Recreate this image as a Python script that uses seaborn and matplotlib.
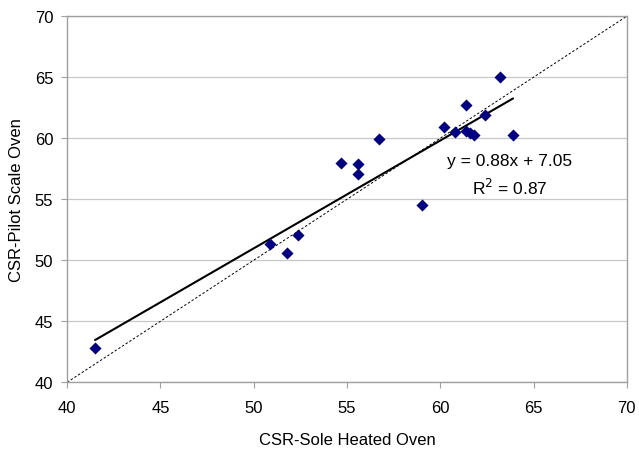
import numpy as np
import pandas as pd
import matplotlib
matplotlib.use("Agg")
import matplotlib.pyplot as plt
import seaborn as sns

# CSR values
sole_heated = [41.5, 50.9, 51.8, 52.4, 54.7, 55.6, 55.6, 56.7, 59.0, 60.2,
               60.8, 61.4, 61.4, 61.6, 61.8, 62.4, 63.2, 63.9]
pilot_scale = [42.8, 51.3, 50.6, 52.1, 58.0, 57.9, 57.1, 59.9, 54.5, 60.9,
               60.5, 62.7, 60.6, 60.4, 60.25, 61.9, 65.0, 60.3]
ticks = [40, 45, 50, 55, 60, 65, 70]
equation_text = "y = 0.88x + 7.05"
r2_text = "R$^2$ = 0.87"

df = pd.DataFrame({"sole": sole_heated, "pilot": pilot_scale})

sns.set_style("white")
plt.rcParams["font.family"] = ["Liberation Sans", "DejaVu Sans"]
plt.rcParams["text.color"] = "black"
plt.rcParams["axes.labelcolor"] = "black"
plt.rcParams["xtick.color"] = "black"
plt.rcParams["ytick.color"] = "black"

fig, ax = plt.subplots(figsize=(6.39, 4.52), dpi=100)
fig.subplots_adjust(left=0.105, right=0.981, top=0.962, bottom=0.152)

# 1:1 reference line
ax.plot(ticks, ticks, color="black", linestyle=(0, (2.5, 2)), linewidth=0.7, zorder=1)

sns.scatterplot(data=df, x="sole", y="pilot", marker="D", s=38, color="#000080",
                edgecolor="#000080", linewidth=0, ax=ax, zorder=3)

# linear trend line
sns.regplot(data=df, x="sole", y="pilot", scatter=False, ci=None, truncate=True,
            line_kws={"color": "black", "linewidth": 1.5, "zorder": 2}, ax=ax)

ax.text(63.73, 58.14, equation_text, ha="center", va="center", fontsize=12.5)
ax.text(63.73, 55.98, r2_text, ha="center", va="center", fontsize=12.5)

ax.set_xlim(40, 70)
ax.set_ylim(40, 70)
ax.set_xticks(ticks)
ax.set_yticks(ticks)
ax.yaxis.grid(True, color="#c8c8c8", linewidth=0.9)
ax.set_axisbelow(True)
ax.tick_params(axis="both", labelsize=12, length=4, color="#a0a0a0", direction="out",
               bottom=True, left=True, labelcolor="black")
ax.tick_params(axis="x", pad=9)
ax.tick_params(axis="y", pad=6)
for sp in ax.spines.values():
    sp.set_color("#a0a0a0")
    sp.set_linewidth(1.0)

ax.set_xlabel("CSR-Sole Heated Oven", fontsize=12, labelpad=12)
ax.set_ylabel("CSR-Pilot Scale Oven", fontsize=12, labelpad=8)

fig.savefig("out.png", dpi=100)
